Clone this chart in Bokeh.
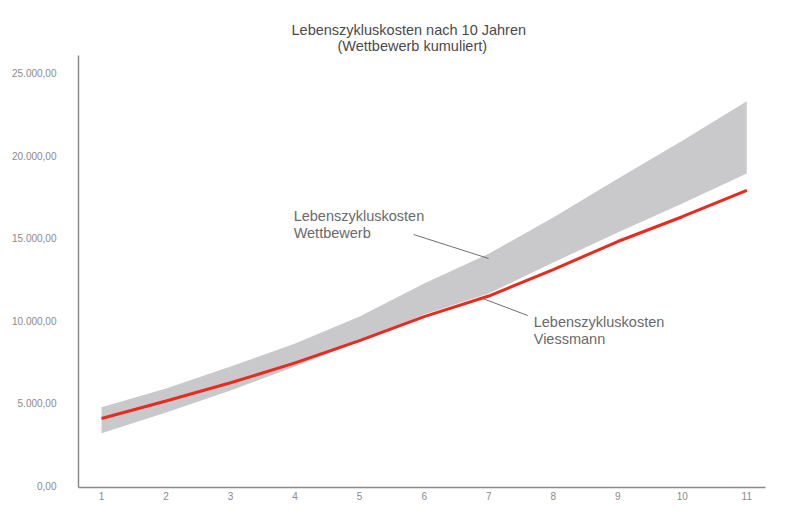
from bokeh.plotting import figure
from bokeh.models import Range1d, FixedTicker, Label, Title
from bokeh.embed import file_html
from bokeh.resources import INLINE

# ---- data ----
years = [1, 2, 3, 4, 5, 6, 7, 8, 9, 10, 11]
wettbewerb_low = [3200, 4450, 5780, 7230, 8750, 10380, 11650, 13530, 15350, 17100, 18920]
wettbewerb_high = [4770, 5900, 7230, 8620, 10260, 12260, 14060, 16250, 18600, 20900, 23290]
viessmann = [4090, 5150, 6250, 7450, 8800, 10250, 11500, 13100, 14800, 16300, 17900]

y_ticks = [0, 5000, 10000, 15000, 20000, 25000]
y_tick_labels = ["0,00", "5.000,00", "10.000,00", "15.000,00", "20.000,00", "25.000,00"]

title_lines = ["Lebenszykluskosten nach 10 Jahren", "(Wettbewerb kumuliert)"]
label_wettbewerb = ["Lebenszykluskosten", "Wettbewerb"]
label_viessmann = ["Lebenszykluskosten", "Viessmann"]

FONT = "Liberation Sans"

p = figure(width=780, height=503, output_backend="svg", toolbar_location=None,
           x_range=Range1d(0.643, 11.29), y_range=Range1d(-90, 26060),
           min_border_left=78, min_border_right=15, min_border_top=55, min_border_bottom=16)
p.outline_line_color = None
p.xgrid.grid_line_color = None
p.ygrid.grid_line_color = None
p.background_fill_color = "white"
p.border_fill_color = "white"

# band + line
p.varea(x=years, y1=wettbewerb_low, y2=wettbewerb_high, fill_color="#c9c8ca")
p.line(x=years, y=viessmann, line_color="#e82a1f", line_width=3)

# axes
for ax in (p.xaxis[0], p.yaxis[0]):
    ax.axis_line_color = "#8a8a8a"
    ax.axis_line_width = 1.5
    ax.major_tick_line_color = None
    ax.minor_tick_line_color = None
    ax.major_tick_out = 0
    ax.major_tick_in = 0
    ax.minor_tick_out = 0
    ax.major_label_text_font = FONT
    ax.major_label_text_font_size = "10px"
    ax.major_label_text_color = "#8a8a8a"

p.xaxis.ticker = FixedTicker(ticks=years)
p.xaxis.major_label_standoff = 4
p.yaxis.ticker = FixedTicker(ticks=y_ticks)
p.yaxis.major_label_overrides = {t: l for t, l in zip(y_ticks, y_tick_labels)}
p.yaxis.major_label_standoff = 22

# title (two lines; inner line added first)
p.add_layout(Title(text=title_lines[1], align="left", offset=259, standoff=3,
                   text_font=FONT, text_font_size="14.5px", text_font_style="normal",
                   text_color="#4a4a4a"), "above")
p.add_layout(Title(text=title_lines[0], align="left", offset=213, standoff=-7,
                   text_font=FONT, text_font_size="14.5px", text_font_style="normal",
                   text_color="#4a4a4a"), "above")

# annotations
for txt, yy in zip(label_wettbewerb, [16374, 15345]):
    p.add_layout(Label(x=3.977, y=yy, text=txt, text_align="left", text_baseline="middle",
                       text_font=FONT, text_font_size="14.5px", text_color="#6a6a6a"))
for txt, yy in zip(label_viessmann, [9958, 8928]):
    p.add_layout(Label(x=7.698, y=yy, text=txt, text_align="left", text_baseline="middle",
                       text_font=FONT, text_font_size="14.5px", text_color="#6a6a6a"))

# leader lines
p.segment(x0=[5.837, 6.907], y0=[15224, 11350], x1=[7.0, 7.605], y1=[13771, 10321],
          line_color="#6f6f6f", line_width=1)

open("out.html", "w").write(file_html(p, INLINE))
